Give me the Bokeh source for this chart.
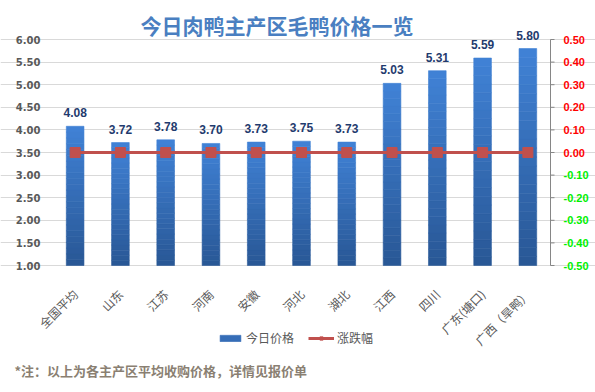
from math import pi
from bokeh.plotting import figure
from bokeh.models import (ColumnDataSource, Range1d, LabelSet, Label, Grid,
                          Legend, LegendItem, FixedTicker)
from bokeh.core.properties import value
from bokeh.embed import file_html
from bokeh.resources import INLINE

# ---- data ----
regions = ["全国平均", "山东", "江苏", "河南", "安徽", "河北", "湖北",
           "江西", "四川", "广东(塘口)", "广西（旱鸭）"]
prices = [4.08, 3.72, 3.78, 3.70, 3.73, 3.75, 3.73, 5.03, 5.31, 5.59, 5.80]
changes = [0.00, 0.00, 0.00, 0.00, 0.00, 0.00, 0.00, 0.00, 0.00, 0.00, 0.00]
left_ticks = [1.0, 1.5, 2.0, 2.5, 3.0, 3.5, 4.0, 4.5, 5.0, 5.5, 6.0]
right_ticks = [-0.5, -0.4, -0.3, -0.2, -0.1, 0.0, 0.1, 0.2, 0.3, 0.4, 0.5]
title_text = "今日肉鸭主产区毛鸭价格一览"
note_text = "*注：以上为各主产区平均收购价格，详情见报价单"
series_names = ["今日价格", "涨跌幅"]

CJK = "Noto Sans CJK SC"
NUM = "Liberation Sans"
W, H = 595, 392
# plotting area (pixels from the top-left of the canvas)
PL, PR, PT, PB = 52, 550, 39, 265

n = len(regions)
xs = list(range(n))
lo, hi = min(left_ticks), max(left_ticks)
rlo, rhi = min(right_ticks), max(right_ticks)

ppc = (PR - PL) / n                  # pixels per category
ppu = (PB - PT) / (hi - lo)          # pixels per left unit
ppr = (PB - PT) / (rhi - rlo)        # pixels per right unit

x_range = Range1d(-0.5 - PL / ppc, n - 0.5 + (W - PR) / ppc)
y_range = Range1d(lo - (H - PB) / ppu, hi + PT / ppu)

p = figure(width=W, height=H, x_range=x_range, y_range=y_range,
           output_backend="svg", toolbar_location=None,
           x_axis_location=None, y_axis_location=None,
           min_border_left=0, min_border_right=0, min_border_top=0, min_border_bottom=0)
p.extra_y_ranges = {"right": Range1d(rlo - (H - PB) / ppr, rhi + PT / ppr)}
p.outline_line_color = None
p.grid.visible = False

# horizontal grid lines, limited to the plotting area
p.add_layout(Grid(dimension=1, ticker=FixedTicker(ticks=left_ticks),
                  bounds=(-0.5, n - 0.5), grid_line_color="#d9d9d9", grid_line_width=1))

# bars with vertical gradient (bands)
N = 24
top_c = (0x40, 0x82, 0xd6)
bot_c = (0x29, 0x57, 0x95)
bar_renderer = None
for k in range(N):
    t = (k + 0.5) / N
    col = tuple(int(round(bot_c[i] + (top_c[i] - bot_c[i]) * t)) for i in range(3))
    hexc = "#%02x%02x%02x" % col
    bots = [lo + (v - lo) * k / N for v in prices]
    tops = [lo + (v - lo) * (k + 1) / N for v in prices]
    r = p.vbar(x=xs, bottom=bots, top=tops, width=0.39, fill_color=hexc,
               line_color=hexc, line_width=0.6)
    if k == N // 2:
        bar_renderer = r

# change line on the right-hand scale
src_l = ColumnDataSource(dict(x=xs, y=changes))
ln = p.line("x", "y", source=src_l, y_range_name="right", line_color="#c0504d", line_width=3)
mk = p.scatter("x", "y", source=src_l, y_range_name="right", marker="square", size=10,
               fill_color="#c0504d", line_color="#c0504d")

# value labels above bars
src_b = ColumnDataSource(dict(x=xs, y=prices, t=["%.2f" % v for v in prices]))
p.add_layout(LabelSet(x="x", y="y", text="t", source=src_b, y_offset=9,
                      text_align="center", text_baseline="bottom",
                      text_font=value(NUM), text_font_style="bold",
                      text_font_size="12px", text_color="#1f3b6e"))

# left axis tick labels
src_yl = ColumnDataSource(dict(x=[-0.5] * len(left_ticks), y=left_ticks,
                               t=["%.2f" % v for v in left_ticks]))
p.add_layout(LabelSet(x="x", y="y", text="t", source=src_yl, x_offset=-12,
                      text_align="right", text_baseline="middle",
                      text_font=value("DejaVu Sans"), text_font_style="bold",
                      text_font_size="10px", text_color="#595959"))

# category labels, rotated
src_xl = ColumnDataSource(dict(x=xs, y=[lo] * n, t=regions))
p.add_layout(LabelSet(x="x", y="y", text="t", source=src_xl, y_offset=-26, angle=pi / 4,
                      text_align="right", text_baseline="middle",
                      text_font=value(CJK), text_font_size="12px", text_color="#595959"))

# right-hand axis: line, ticks and coloured labels
p.segment(x0=n - 0.5, y0=rlo, x1=n - 0.5, y1=rhi, y_range_name="right",
          line_color="#868686", line_width=1)
p.ray(x=[n - 0.5] * len(right_ticks), y=right_ticks, length=4, length_units="screen",
      angle=0, y_range_name="right", line_color="#868686", line_width=1)
src_yr = ColumnDataSource(dict(
    x=[n - 0.5] * len(right_ticks), y=right_ticks,
    t=["%.2f" % v for v in right_ticks],
    c=["#ff0000" if v >= 0 else "#00f000" for v in right_ticks]))
p.add_layout(LabelSet(x="x", y="y", text="t", source=src_yr, x_offset=13,
                      y_range_name="right", text_align="left", text_baseline="middle",
                      text_font=value(NUM), text_font_style="bold",
                      text_font_size="11px", text_color="c"))

# title
p.add_layout(Label(x=140, y=H - 24, x_units="screen", y_units="screen", text=title_text,
                   text_align="left", text_baseline="middle", text_font=CJK,
                   text_font_style="bold", text_font_size="21px", text_color="#4a7fc1"))

# legend
legend = Legend(items=[LegendItem(label=series_names[0], renderers=[bar_renderer]),
                       LegendItem(label=series_names[1], renderers=[ln, mk])],
                location=(217, H - 346), orientation="horizontal",
                glyph_width=26, glyph_height=8, label_standoff=3, spacing=14,
                padding=0, margin=0, border_line_color=None, background_fill_alpha=0,
                label_text_font=CJK, label_text_font_size="12px",
                label_text_color="#595959", label_height=14)
p.add_layout(legend, "center")

# footnote
p.add_layout(Label(x=14, y=H - 370, x_units="screen", y_units="screen", text=note_text,
                   text_align="left", text_baseline="middle", text_font=CJK,
                   text_font_style="bold", text_font_size="13px", text_color="#8a7f72"))

open("out.html", "w").write(file_html(p, INLINE))
